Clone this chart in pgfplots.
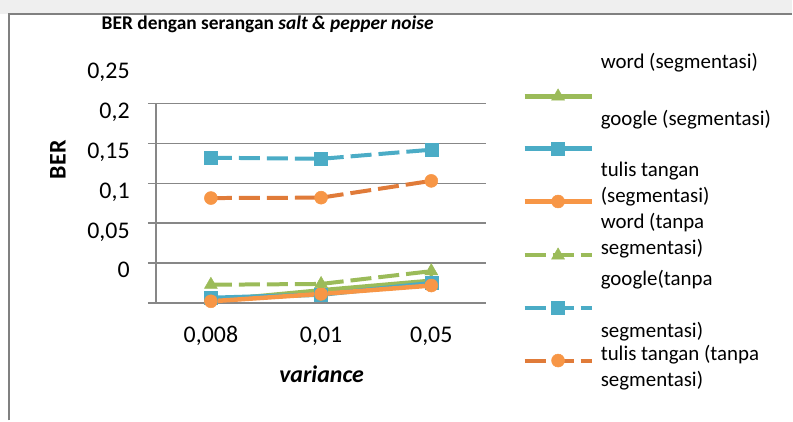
\documentclass[border=0pt]{standalone}
\usepackage{pgfplots}
\pgfplotsset{compat=1.18}
\usepackage{fontspec}
\setmainfont{Carlito}
\definecolor{cgreen}{HTML}{9BBB59}
\definecolor{cblue}{HTML}{4BACC6}
\definecolor{corange}{HTML}{F79646}
\definecolor{cdorange}{HTML}{E07B39}
\definecolor{cgrid}{HTML}{878787}
\definecolor{cframe}{HTML}{808080}
\definecolor{cband}{HTML}{EFEFEF}
\newcommand{\lt}[2]{\raisebox{#1}[10bp][10bp]{\begin{tabular}[c]{@{}l@{}}#2\end{tabular}}}
\newcommand{\bigf}{\fontsize{24}{29}\selectfont}
% picture pixel (px,py) from top-left  ->  tikz (px-156, 303.5-py) in bp
\begin{document}
\begin{tikzpicture}
\begin{axis}[
 scale only axis, width=331bp, height=200bp,
 xmin=-0.5, xmax=2.5, ymin=0, ymax=0.25,
 axis lines*=left,
 axis line style={cgrid, line width=1.5bp},
 xtick={0,1,2}, xticklabels={{0,008},{0,01},{0,05}},
 xtick style={draw=none},
 ytick={0,0.05,0.1,0.15,0.2,0.25},
 yticklabels={{},{0},{0,05},{0,1},{0,15},{0,2}},
 ymajorgrids, grid style={cgrid, line width=1.5bp},
 ytick style={cgrid, line width=1.5bp},
 tick align=outside, major tick length=8bp,
 yticklabel style={anchor=base east, inner sep=0pt, xshift=-18bp, yshift=-14.8bp, font=\bigf},
 xticklabel style={anchor=base, inner sep=0pt, yshift=-31.2bp, font=\bigf},
 clip=false,
 legend cell align=left,
 legend style={at={(axis description cs:1.1088,1.0725)}, anchor=north west, draw=none, fill=none,
   inner sep=0pt, outer sep=0pt, row sep=40bp, font=\fontsize{21}{26}\selectfont,
   nodes={inner sep=0pt},
   /tikz/every odd column/.append style={column sep=7bp}},
 legend image code/.code={\draw[mark repeat=2,mark phase=2] plot coordinates {(0bp,0bp)(33.5bp,0bp)(67bp,0bp)};},
]
\addplot[cgreen, line width=4.5bp, mark=triangle*, mark size=7.5bp, mark options={solid, line width=0.5bp}] coordinates {(0,0.003)(1,0.016)(2,0.028)};
\addlegendentry{\lt{32bp}{word (segmentasi)}}
\addplot[cblue, line width=4.5bp, mark=square*, mark size=6.5bp, mark options={solid, line width=0.5bp}] coordinates {(0,0.0065)(1,0.0106)(2,0.025)};
\addlegendentry{\lt{27bp}{google (segmentasi)}}
\addplot[corange, line width=4.5bp, mark=*, mark size=6.5bp, mark options={solid, line width=0.5bp}] coordinates {(0,0.0023)(1,0.0115)(2,0.022)};
\addlegendentry{\lt{16bp}{tulis tangan\\(segmentasi)}}
\addplot[cgreen, line width=4bp, dash pattern=on 21bp off 7bp, mark=triangle*, mark size=7.5bp, mark options={solid, line width=0.5bp}] coordinates {(0,0.023)(1,0.024)(2,0.040)};
\addlegendentry{\lt{18bp}{word (tanpa\\segmentasi)}}
\addplot[cblue, line width=4bp, dash pattern=on 21bp off 7bp, mark=square*, mark size=6.5bp, mark options={solid, line width=0.5bp}] coordinates {(0,0.182)(1,0.1806)(2,0.192)};
\addlegendentry{\lt{0.5bp}{google(tanpa\\ \\segmentasi)}}
\addplot[cdorange, line width=4bp, dash pattern=on 21bp off 7bp, mark=*, mark size=6.5bp, mark options={solid, line width=0.5bp, fill=corange, draw=corange}] coordinates {(0,0.1315)(1,0.132)(2,0.153)};
\addlegendentry{\lt{-9bp}{tulis tangan (tanpa\\segmentasi)}}
\end{axis}
\begin{scope}[x=1bp,y=1bp]
\fill[cband] (-156,289.5) rectangle (637,303.5);
\draw[color=cframe, line width=2bp] (-147,-117.5) -- (-147,289.5) -- (637,289.5);
\node[anchor=base east, inner sep=0pt, font=\bigf] at (-26,{303.5-79}) {0,25};
\node[anchor=base, inner sep=0pt, font=\bfseries\fontsize{19.5}{24}\selectfont] at (112,{303.5-29.5}) {BER dengan serangan \textit{salt \& pepper noise}};
\node[anchor=base, inner sep=0pt, font=\bfseries\itshape\bigf] at (166,{303.5-383}) {variance};
\node[rotate=90, inner sep=0pt, font=\bfseries\bigf] at (-98,{303.5-160}) {BER};
\path[use as bounding box] (-156,-117.5) rectangle (637,303.5);
\end{scope}
\end{tikzpicture}
\end{document}
